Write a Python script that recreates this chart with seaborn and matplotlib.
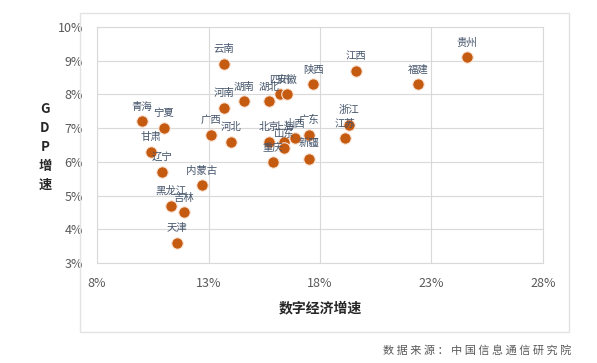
import pandas as pd
import matplotlib
matplotlib.use('Agg')
import matplotlib.pyplot as plt
import seaborn as sns
from matplotlib.patches import Rectangle
from matplotlib.ticker import FuncFormatter

# data: 数字经济增速 (x), GDP增速 (y), in %
provinces = ['贵州', '江西', '福建', '陕西', '云南', '四川', '安徽', '湖北', '湖南', '河南',
             '青海', '宁夏', '甘肃', '辽宁', '黑龙江', '吉林', '天津', '内蒙古', '广西', '河北',
             '北京', '上海', '山东', '山西', '重庆', '广东', '新疆', '浙江', '江苏']
digital_growth = [24.6, 19.6, 22.4, 17.7, 13.7, 16.2, 16.5, 15.7, 14.6, 13.7,
                  10.0, 11.0, 10.4, 10.9, 11.3, 11.9, 11.6, 12.7, 13.1, 14.0,
                  15.7, 16.4, 16.4, 16.9, 15.9, 17.5, 17.5, 19.3, 19.1]
gdp_growth = [9.1, 8.7, 8.3, 8.3, 8.9, 8.0, 8.0, 7.8, 7.8, 7.6,
              7.2, 7.0, 6.3, 5.7, 4.7, 4.5, 3.6, 5.3, 6.8, 6.6,
              6.6, 6.6, 6.4, 6.7, 6.0, 6.8, 6.1, 7.1, 6.7]

df = pd.DataFrame({'province': provinces, 'x': digital_growth, 'y': gdp_growth})

sns.set_style('white')
plt.rcParams['font.family'] = ['Noto Sans CJK SC', 'DejaVu Sans']

fig = plt.figure(figsize=(5.97, 3.63), dpi=100)
ax = fig.add_axes([0.1625, 0.2755, 0.747, 0.650])

# outer chart frame
fig.patches.append(Rectangle((80 / 597, 1 - 332 / 363), 489 / 597, 319 / 363,
                             transform=fig.transFigure, fill=False,
                             edgecolor='#E3E3E3', linewidth=1))

sns.scatterplot(data=df, x='x', y='y', ax=ax, color='#C55A11', s=68,
                edgecolor='#FBE5D6', linewidth=0.8, zorder=3)

for _, r in df.iterrows():
    ax.annotate(r['province'], (r['x'], r['y']), xytext=(0, 7),
                textcoords='offset points', ha='center', va='bottom',
                fontsize=7.5, color='#44546A', zorder=4)

ax.set_xlim(8, 28)
ax.set_ylim(3, 10)
ax.set_xticks([8, 13, 18, 23, 28])
ax.set_yticks(range(3, 11))
ax.xaxis.set_major_formatter(FuncFormatter(lambda v, p: f'{v:.0f}%'))
ax.yaxis.set_major_formatter(FuncFormatter(lambda v, p: f'{v:.0f}%'))
ax.tick_params(axis='both', length=0, labelsize=9, colors='#595959')
ax.tick_params(axis='x', pad=10)
ax.tick_params(axis='y', pad=10)
ax.grid(True, color='#D9D9D9', linewidth=0.8)
ax.set_axisbelow(True)
for sp in ax.spines.values():
    sp.set_color('#D9D9D9')
    sp.set_linewidth(0.8)

ax.set_xlabel('数字经济增速', fontsize=10, fontweight='bold', color='#262626', labelpad=8)
ax.set_ylabel('')
fig.text(45 / 597, 1 - 147 / 363, 'G\nD\nP\n增\n速', ha='center', va='center',
         fontsize=9.5, fontweight='bold', color='#262626', linespacing=1.45)

fig.text(571 / 597, 1 - 350 / 363, '数 据 来 源 ： 中 国 信 息 通 信 研 究 院',
         ha='right', va='center', fontsize=8, color='#595959')

fig.savefig('out.png', dpi=100)
